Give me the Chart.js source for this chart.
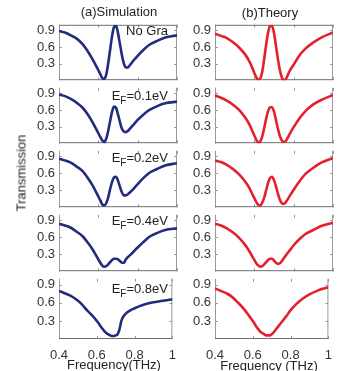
<!DOCTYPE html>
<html><head><meta charset="utf-8">
<script src="https://cdn.jsdelivr.net/npm/chart.js@4.4.1/dist/chart.umd.min.js"></script>
<style>
body{margin:0;width:358px;height:371px;background:#fff;position:relative;overflow:hidden;font-family:"Liberation Sans",Arial,sans-serif;color:#222}
canvas{position:absolute}
.t{position:absolute;font-size:13px;line-height:13px;white-space:nowrap}
.t sub{font-size:10px;vertical-align:-4px;line-height:0}
</style></head><body>
<script>
// ---------- data ----------
const freq = [0.40,0.43,0.46,0.49,0.52,0.55,0.57,0.59,0.60,0.61,0.62,0.63,0.64,0.65,0.66,0.67,0.68,0.69,0.70,0.71,0.72,0.73,0.74,0.75,0.76,0.78,0.80,0.83,0.86,0.90,0.94,1.00];

const simNoGra = [0.89,0.86,0.81,0.75,0.65,0.50,0.38,0.25,0.18,0.11,0.04,0.02,0.10,0.30,0.55,0.80,0.96,0.98,0.85,0.65,0.45,0.30,0.23,0.23,0.27,0.36,0.44,0.55,0.64,0.71,0.77,0.81];
const simEF01  = [0.88,0.85,0.80,0.73,0.64,0.50,0.38,0.25,0.18,0.11,0.05,0.02,0.08,0.22,0.40,0.57,0.66,0.64,0.52,0.38,0.26,0.21,0.20,0.22,0.26,0.34,0.42,0.52,0.60,0.67,0.72,0.75];
const simEF02  = [0.86,0.83,0.79,0.72,0.64,0.50,0.39,0.26,0.19,0.12,0.05,0.03,0.07,0.17,0.32,0.45,0.53,0.54,0.47,0.36,0.26,0.21,0.21,0.23,0.26,0.33,0.41,0.52,0.61,0.68,0.74,0.78];
const simEF04  = [0.84,0.81,0.77,0.70,0.62,0.49,0.39,0.27,0.21,0.15,0.10,0.08,0.09,0.12,0.16,0.20,0.22,0.22,0.21,0.18,0.15,0.15,0.21,0.25,0.28,0.35,0.42,0.52,0.61,0.68,0.73,0.76];
const simEF08  = [0.80,0.76,0.72,0.66,0.58,0.47,0.41,0.34,0.30,0.26,0.21,0.17,0.13,0.10,0.08,0.06,0.05,0.05,0.06,0.08,0.16,0.30,0.37,0.41,0.44,0.48,0.51,0.55,0.58,0.61,0.63,0.66];

const thNoGra  = [0.84,0.80,0.76,0.69,0.60,0.48,0.37,0.22,0.13,0.05,0.01,0.03,0.15,0.38,0.64,0.86,0.98,0.98,0.85,0.62,0.38,0.18,0.05,0.00,0.02,0.17,0.28,0.45,0.57,0.68,0.77,0.86];
const thEF01   = [0.86,0.82,0.77,0.70,0.61,0.48,0.37,0.22,0.14,0.06,0.01,0.03,0.12,0.27,0.44,0.58,0.65,0.65,0.57,0.42,0.26,0.13,0.05,0.02,0.04,0.17,0.29,0.45,0.58,0.70,0.78,0.87];
const thEF02   = [0.83,0.80,0.75,0.68,0.59,0.47,0.37,0.23,0.16,0.09,0.04,0.03,0.08,0.17,0.30,0.43,0.52,0.54,0.48,0.37,0.24,0.13,0.07,0.06,0.09,0.20,0.31,0.46,0.59,0.70,0.79,0.87];
const thEF04   = [0.84,0.81,0.76,0.69,0.60,0.48,0.38,0.26,0.20,0.14,0.10,0.08,0.09,0.12,0.16,0.20,0.22,0.22,0.19,0.15,0.13,0.14,0.18,0.23,0.28,0.37,0.46,0.57,0.66,0.73,0.80,0.86];
const thEF08   = [0.84,0.80,0.76,0.70,0.61,0.51,0.43,0.34,0.30,0.25,0.20,0.16,0.12,0.10,0.08,0.06,0.06,0.06,0.08,0.11,0.15,0.19,0.23,0.27,0.31,0.39,0.48,0.58,0.66,0.74,0.80,0.86];

const panelNames = ['No Gra','0.1','0.2','0.4','0.8'];
const xTicks = [0.4,0.6,0.8,1];
const yTicks = [0.3,0.6,0.9];
const simSeries = [simNoGra,simEF01,simEF02,simEF04,simEF08];
const thSeries  = [thNoGra,thEF01,thEF02,thEF04,thEF08];

// ---------- layout ----------
const P = [21,84,147,211,275,339];
const colLeft = [59,215];
const plotW = 118, axW = 40, padR = 8, padT = 8, xAxH = 30;
const colors = ['#232b7e','#e3202c'];

const boxPlugin = {
  id:'box',
  beforeDatasetsDraw(chart, args, opts){
    const {ctx, chartArea:a, scales:{x,y}} = chart;
    ctx.save();
    ctx.lineWidth = 1;
    ctx.strokeStyle = '#9a9a9a';
    ctx.beginPath();
    ctx.moveTo(a.left+0.5,a.top); ctx.lineTo(a.left+0.5,a.bottom);
    ctx.moveTo(a.right-0.5,a.top); ctx.lineTo(a.right-0.5,a.bottom);
    xTicks.forEach(v=>{const px=Math.round(x.getPixelForValue(v))+0.5; ctx.moveTo(px,a.top); ctx.lineTo(px,a.top+3); ctx.moveTo(px,a.bottom); ctx.lineTo(px,a.bottom-3);});
    yTicks.forEach(v=>{const py=Math.round(y.getPixelForValue(v))+0.5; ctx.moveTo(a.left,py); ctx.lineTo(a.left+3,py); ctx.moveTo(a.right,py); ctx.lineTo(a.right-3,py);});
    ctx.stroke();
    ctx.strokeStyle = '#6e6e6e';
    ctx.beginPath();
    if (opts.top){ ctx.moveTo(a.left,a.top+0.5); ctx.lineTo(a.right,a.top+0.5); }
    ctx.moveTo(a.left,a.bottom-0.5); ctx.lineTo(a.right,a.bottom-0.5);
    ctx.stroke();
    ctx.restore();
  }
};

function makeChart(col, i, vals){
  const isBottom = i === 4;
  const c = document.createElement('canvas');
  const h = padT + (P[i+1]-P[i]) + (isBottom ? xAxH : padT);
  const w = axW + plotW + padR;
  c.width = w; c.height = h;
  c.style.left = (colLeft[col]-axW)+'px';
  c.style.top = (P[i]-padT)+'px';
  c.style.width = w+'px'; c.style.height = h+'px';
  document.body.appendChild(c);
  const font = {size:13, family:'"Liberation Sans", Arial, sans-serif'};
  new Chart(c, {
    type:'line',
    data:{datasets:[{
      data: freq.map((f,k)=>({x:f,y:vals[k]})),
      borderColor: colors[col], borderWidth: 2.6, pointRadius: 0,
      cubicInterpolationMode:'monotone', fill:false
    }]},
    options:{
      responsive:false, animation:false, devicePixelRatio:1,
      layout:{padding:{top:padT,bottom:isBottom?0:padT,left:0,right:padR}},
      plugins:{legend:{display:false},tooltip:{enabled:false},box:{top:i===0}},
      scales:{
        x:{type:'linear',min:0.4,max:1,display:isBottom,
          grid:{display:false,drawTicks:false},border:{display:false},
          afterBuildTicks(s){s.ticks = xTicks.map(v=>({value:v}));},
          afterFit(s){ s.height = isBottom ? xAxH : 0; },
          ticks:{padding:9,maxRotation:0,autoSkip:false,color:'#333',font,callback:v=>String(v)}},
        y:{min:0,max:1,
          grid:{display:false,drawTicks:false},border:{display:false},
          afterBuildTicks(s){s.ticks = yTicks.map(v=>({value:v}));},
          afterFit(s){s.width = axW;},
          ticks:{padding:4,autoSkip:false,color:'#333',font,callback:v=>v.toFixed(1)}}
      }
    },
    plugins:[boxPlugin]
  });
}

for (let i=0;i<5;i++){ makeChart(0,i,simSeries[i]); makeChart(1,i,thSeries[i]); }

// ---------- text ----------
function addText(html, style){
  const d = document.createElement('div'); d.className='t'; d.innerHTML = html;
  Object.assign(d.style, style); document.body.appendChild(d); return d;
}
addText('(a)Simulation',{left:'119px',top:'5px',transform:'translateX(-50%)'});
addText('(b)Theory',{left:'270px',top:'6px',transform:'translateX(-50%)'});
addText('Transmission',{left:'21px',top:'173px',transform:'translate(-50%,-50%) rotate(-90deg)'});
addText('Frequency(THz)',{left:'114px',top:'358px',transform:'translateX(-50%)'});
addText('Frequency (THz)',{left:'269px',top:'359px',transform:'translateX(-50%)'});
const annTops = [23.5,88.5,150.5,213.5,281.5];
panelNames.forEach((n,i)=>{
  const html = i===0 ? n : 'E<sub>F</sub>=' + n + 'eV';
  addText(html,{right:(358-168)+'px',top:annTops[i]+'px'});
});
</script>
</body></html>
